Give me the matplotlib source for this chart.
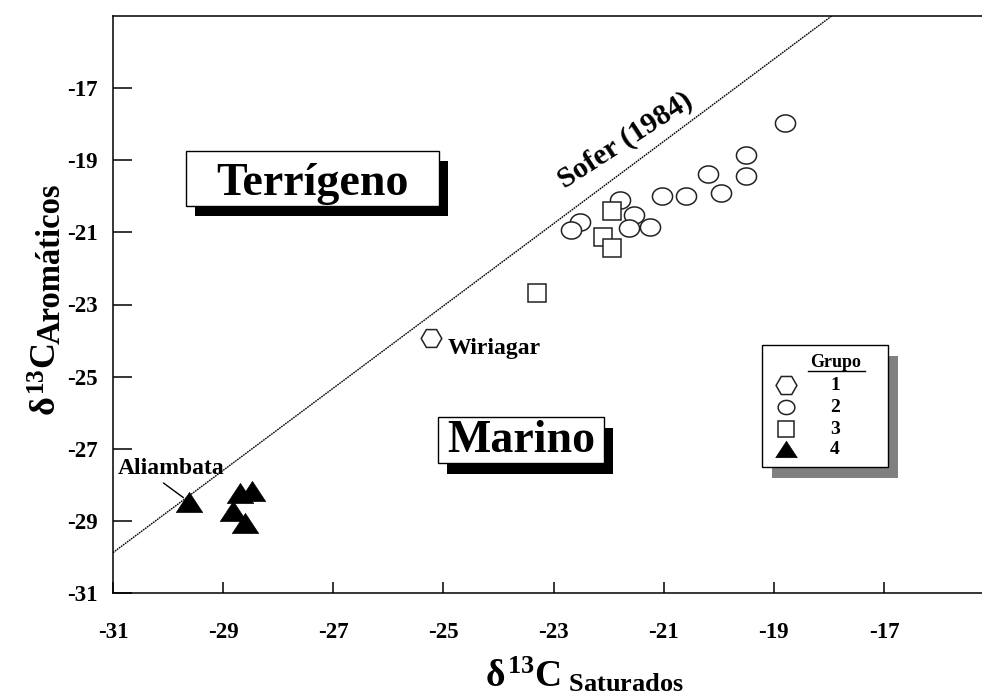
import numpy as np
import matplotlib
matplotlib.use("Agg")
import matplotlib.pyplot as plt
from matplotlib.path import Path
from matplotlib.patches import Rectangle
from matplotlib.lines import Line2D

# ---------------- data ----------------
g1_x = [-25.23]
g1_y = [-23.92]
g2_x = [-18.80, -19.51, -19.51, -20.20, -19.96, -20.60, -21.03, -21.79, -21.54, -21.25, -21.63, -22.52, -22.68]
g2_y = [-17.97, -18.85, -19.43, -19.38, -19.90, -19.99, -19.99, -20.10, -20.51, -20.85, -20.88, -20.71, -20.93]
g3_x = [-21.93, -22.11, -21.93, -23.30]
g3_y = [-20.41, -21.14, -21.42, -22.67]
g4_x = [-29.62, -28.69, -28.48, -28.83, -28.60]
g4_y = [-28.47, -28.22, -28.17, -28.72, -29.07]

sofer_x = [-31.0, -17.95]
sofer_y = [-29.88, -15.0]

x_ticks = [-31, -29, -27, -25, -23, -21, -19, -17]
y_ticks = [-31, -29, -27, -25, -23, -21, -19, -17]
legend_labels = ["1", "2", "3", "4"]

# ---------------- style ----------------
plt.rcParams['font.family'] = ['Liberation Serif', 'DejaVu Serif']
plt.rcParams['font.weight'] = 'bold'
plt.rcParams['axes.unicode_minus'] = False
plt.rcParams['mathtext.fontset'] = 'custom'
plt.rcParams['mathtext.rm'] = 'Liberation Serif:bold'
plt.rcParams['mathtext.it'] = 'Liberation Serif:bold'
plt.rcParams['mathtext.bf'] = 'Liberation Serif:bold'

W, H = 982, 697
fig = plt.figure(figsize=(W / 100, H / 100), dpi=100)
L, R, T, B = 113, 982, 16, 593
ax = fig.add_axes([L / W, (H - B) / H, (R - L) / W, (B - T) / H])
ax.set_xlim(-31, -15.22)
ax.set_ylim(-31, -15)

def axp(px, py):
    return ((px - L) / (R - L), (B - py) / (B - T))

for s in ['left', 'bottom', 'top']:
    ax.spines[s].set_linewidth(1.1)
ax.spines['right'].set_visible(False)

ax.set_xticks(x_ticks)
ax.set_yticks(y_ticks)
ax.tick_params(axis='x', direction='in', length=8, width=1.1, pad=21, labelsize=16.5, top=False)
ax.tick_params(axis='y', direction='in', length=14, width=1.1, pad=11, labelsize=16.5, right=False)
for lab in ax.get_xticklabels() + ax.get_yticklabels():
    lab.set_fontweight('bold')

# markers
t = np.linspace(0, 2 * np.pi, 60)
ellipse = Path(np.column_stack([np.cos(t), 0.85 * np.sin(t)]), closed=True)
tri = Path([(-1, -0.76), (1, -0.76), (0, 0.76), (-1, -0.76)], closed=True)

ax.plot(sofer_x, sofer_y, color='black', lw=1.0, ls=(0, (1.2, 0.6)), zorder=2)

ax.plot(g2_x, g2_y, ls='none', marker=ellipse, ms=14.5, mfc='white', mec='#222222', mew=1.1, zorder=3)
ax.plot(g3_x, g3_y, ls='none', marker='s', ms=12.5, mfc='white', mec='#222222', mew=1.1, zorder=4)
ax.plot(g1_x, g1_y, ls='none', marker='H', ms=14.8, mfc='white', mec='#222222', mew=1.1, zorder=4)
ax.plot(g4_x, g4_y, ls='none', marker=tri, ms=19, mfc='black', mec='black', mew=0.5, zorder=4)

# point labels
ax.text(-24.93, -24.36, 'Wiriagar', fontsize=17, fontweight='bold', ha='left', va='baseline')
ax.annotate('Aliambata', xy=(-29.62, -28.47), xytext=(-30.91, -27.71),
            fontsize=17, fontweight='bold', ha='left', va='baseline',
            arrowprops=dict(arrowstyle='-', color='black', lw=1.0,
                            shrinkA=1, shrinkB=5, relpos=(0.38, 0.0)))

ax.text(*axp(625, 140), 'Sofer (1984)', transform=ax.transAxes, fontsize=21.5, fontweight='bold',
        rotation=33, ha='center', va='center')

# region boxes with shadow
def shadow_box(px0, py0, px1, py1, dx, dy, shadow_color):
    x0, y1 = axp(px0, py0)
    x1, y0 = axp(px1, py1)
    sx, sy = dx / (R - L), dy / (B - T)
    ax.add_patch(Rectangle((x0 + sx, y0 - sy), x1 - x0, y1 - y0, transform=ax.transAxes,
                           facecolor=shadow_color, edgecolor=shadow_color, lw=0, zorder=5))
    ax.add_patch(Rectangle((x0, y0), x1 - x0, y1 - y0, transform=ax.transAxes,
                           facecolor='white', edgecolor='black', lw=1.0, zorder=6))

shadow_box(186, 151, 439, 206, 9, 10, 'black')
ax.text(*axp(312, 195), 'Terrígeno', transform=ax.transAxes, fontsize=33, fontweight='bold',
        ha='center', va='baseline', zorder=7)
shadow_box(438, 417, 604, 463, 9, 11, 'black')
ax.text(*axp(521, 452), 'Marino', transform=ax.transAxes, fontsize=33, fontweight='bold',
        ha='center', va='baseline', zorder=7)

# legend
shadow_box(762, 345, 888, 467, 10, 11, '#808080')
ax.text(*axp(836, 367), 'Grupo', transform=ax.transAxes, fontsize=13, fontweight='bold',
        ha='center', va='baseline', zorder=7)
ux0, uy = axp(808, 370.5)
ux1, _ = axp(865, 370.5)
ax.add_line(Line2D([ux0, ux1], [uy, uy], transform=ax.transAxes, color='black', lw=1.0, zorder=7))
leg_markers = [dict(marker='H', ms=15, mfc='white', mec='#222222', mew=1.1),
               dict(marker=ellipse, ms=12, mfc='white', mec='#222222', mew=1.1),
               dict(marker='s', ms=12, mfc='white', mec='#222222', mew=1.1),
               dict(marker=tri, ms=15.5, mfc='black', mec='black', mew=0.5)]
rows = [385, 407, 429, 449]
for lab, mk, ry in zip(legend_labels, leg_markers, rows):
    mx, my = axp(786, ry)
    ax.add_line(Line2D([mx], [my], transform=ax.transAxes, ls='none', zorder=7, **mk))
    lx, ly = axp(835, ry)
    ax.text(lx, ly, lab, transform=ax.transAxes, fontsize=14, fontweight='bold',
            ha='center', va='center', zorder=7)

# x axis label
ax.set_xlabel(r'$\delta^{13}C_{\ Saturados}$', fontsize=27)
ax.xaxis.set_label_coords(*axp(584, 655))

# y axis label built from two pieces (subscript larger than mathtext default)
def fpx(px, py):
    return (px / W, (H - py) / H)

ymain = fig.text(*fpx(57, 416), r'$\delta^{13}C$', fontsize=26, rotation=90,
                 rotation_mode='anchor', ha='left', va='baseline')
fig.canvas.draw()
bb = ymain.get_window_extent(fig.canvas.get_renderer())
top_px = H - bb.y1
fig.text(*fpx(60, top_px + 1), 'Aromáticos', fontsize=23.5, fontweight='bold', rotation=90,
         rotation_mode='anchor', ha='left', va='baseline')

fig.savefig('out.png', dpi=100)
